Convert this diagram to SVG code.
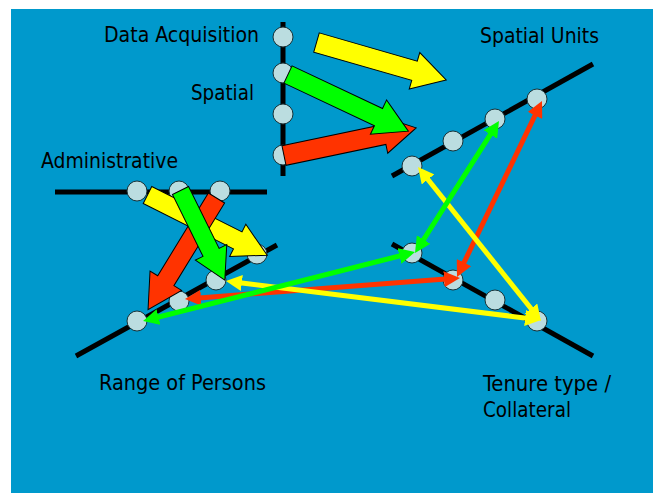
<svg xmlns="http://www.w3.org/2000/svg" width="653" height="493" viewBox="0 0 653 493">
<style>
.bg{fill:#0099CC}
.axis{stroke:#000;stroke-width:5;fill:none}
.dot{fill:#BBDDE0;stroke:#1a3338;stroke-width:1}
.blk{stroke:#000;stroke-width:1;stroke-linejoin:miter}
.y{fill:#FFFF00}.g{fill:#00FF00}.r{fill:#FF3300}
.ln{stroke-width:5;fill:none}
.ly{stroke:#FFFF00;marker-start:url(#my);marker-end:url(#my)}
.lg{stroke:#00FF00;marker-start:url(#mg);marker-end:url(#mg)}
.lr{stroke:#FF3300;marker-start:url(#mr);marker-end:url(#mr)}
text{font-family:Tahoma,"DejaVu Sans Condensed","DejaVu Sans",sans-serif;font-size:21px;fill:#000}
</style>
<defs>
<marker id="my" markerUnits="userSpaceOnUse" markerWidth="17" markerHeight="16" refX="8" refY="8" orient="auto-start-reverse"><path d="M0,0 L16,8 L0,16 Z" fill="#FFFF00"/></marker>
<marker id="mg" markerUnits="userSpaceOnUse" markerWidth="17" markerHeight="16" refX="8" refY="8" orient="auto-start-reverse"><path d="M0,0 L16,8 L0,16 Z" fill="#00FF00"/></marker>
<marker id="mr" markerUnits="userSpaceOnUse" markerWidth="17" markerHeight="16" refX="8" refY="8" orient="auto-start-reverse"><path d="M0,0 L16,8 L0,16 Z" fill="#FF3300"/></marker>
</defs>
<rect x="0" y="0" width="653" height="493" fill="#fff"/>
<rect class="bg" x="11" y="9" width="642" height="484"/>

<g id="data-acquisition">
<line class="axis" x1="283" y1="22" x2="283" y2="176"/>
<circle class="dot" cx="283" cy="37" r="10"/>
<circle class="dot" cx="283" cy="73" r="10"/>
<circle class="dot" cx="283" cy="114" r="10"/>
<circle class="dot" cx="283" cy="155" r="10"/>
<text x="104" y="42" textLength="155" lengthAdjust="spacingAndGlyphs">Data Acquisition</text>
<text x="191" y="100" textLength="63" lengthAdjust="spacingAndGlyphs">Spatial</text>
</g>

<g id="administrative">
<line class="axis" x1="55" y1="192" x2="267" y2="192"/>
<circle class="dot" cx="137" cy="191" r="10"/>
<circle class="dot" cx="179" cy="191" r="10"/>
<circle class="dot" cx="220" cy="191" r="10"/>
<text x="41" y="168" textLength="137" lengthAdjust="spacingAndGlyphs">Administrative</text>
</g>

<g id="spatial-units">
<line class="axis" x1="392" y1="176" x2="593" y2="64"/>
<circle class="dot" cx="412" cy="166" r="10"/>
<circle class="dot" cx="453" cy="141" r="10"/>
<circle class="dot" cx="495" cy="119" r="10"/>
<circle class="dot" cx="537" cy="99" r="10"/>
<text x="480" y="43" textLength="119" lengthAdjust="spacingAndGlyphs">Spatial Units</text>
</g>

<g id="range-of-persons">
<line class="axis" x1="76" y1="356" x2="277" y2="245"/>
<circle class="dot" cx="137" cy="321" r="10"/>
<circle class="dot" cx="179" cy="301" r="10"/>
<circle class="dot" cx="216" cy="280" r="10"/>
<circle class="dot" cx="257" cy="254" r="10"/>
<text x="99" y="390" textLength="167" lengthAdjust="spacingAndGlyphs">Range of Persons</text>
</g>

<g id="tenure-type">
<line class="axis" x1="392" y1="244" x2="593" y2="356"/>
<circle class="dot" cx="412" cy="253" r="10"/>
<circle class="dot" cx="453" cy="280" r="10"/>
<circle class="dot" cx="495" cy="300" r="10"/>
<circle class="dot" cx="537" cy="321" r="10"/>
<text x="483" y="391" textLength="128" lengthAdjust="spacingAndGlyphs">Tenure type /</text>
<text x="483" y="417" textLength="88" lengthAdjust="spacingAndGlyphs">Collateral</text>
</g>

<g id="connectors">
<path class="blk y" transform="translate(316.5,42.5) rotate(16.1)" d="M0,-10 L102,-10 L102,-19 L135,0 L102,19 L102,10 L0,10 Z"/>
<path class="blk r" transform="translate(284,155.5) rotate(-11.8)" d="M0,-10 L102,-10 L102,-19 L135,0 L102,19 L102,10 L0,10 Z"/>
<path class="blk g" transform="translate(288,74.5) rotate(25.2)" d="M0,-9.5 L100,-9.5 L100,-19 L133,0 L100,19 L100,9.5 L0,9.5 Z"/>

<path class="blk y" transform="translate(147.5,195) rotate(26.7)" d="M0,-9.5 L101,-9.5 L101,-18 L134,0 L101,18 L101,9.5 L0,9.5 Z"/>
<path class="blk r" transform="translate(216.5,198) rotate(121.5)" d="M0,-9.5 L97,-9.5 L97,-18.5 L131,0 L97,18.5 L97,9.5 L0,9.5 Z"/>
<path class="blk g" transform="translate(180.5,190.5) rotate(63.7)" d="M0,-9 L69,-9 L69,-17.5 L100,0 L69,17.5 L69,9 L0,9 Z"/>

<line class="ln lr" x1="538.5" y1="108.2" x2="460.5" y2="269.8"/>
<line class="ln lr" x1="452" y1="278.6" x2="193" y2="298.4"/>
<line class="ln ly" x1="423" y1="173.2" x2="536" y2="314.8"/>
<line class="ln ly" x1="533.1" y1="319" x2="233.9" y2="282"/>
<line class="ln lg" x1="419.3" y1="246.3" x2="494.7" y2="127.7"/>
<line class="ln lg" x1="150.8" y1="319" x2="407.2" y2="254"/>
</g>
</svg>
